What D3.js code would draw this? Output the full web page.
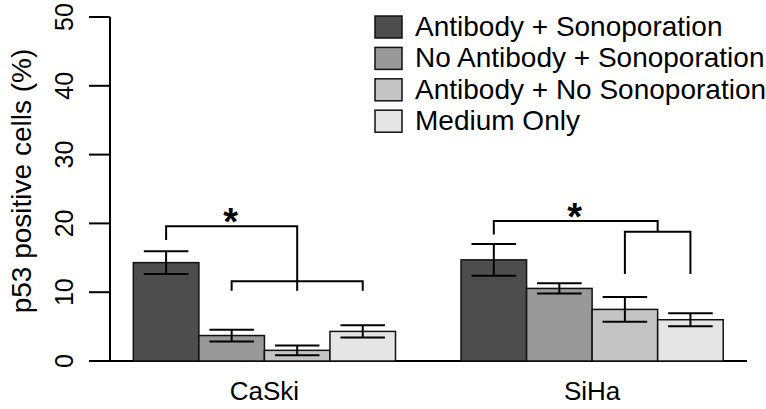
<!DOCTYPE html>
<html>
<head>
<meta charset="utf-8">
<script src="https://cdn.jsdelivr.net/npm/d3@7"></script>
<style>
  body { margin: 0; background: #fff; }
  text { font-family: "Liberation Sans", Arial, sans-serif; fill: #000; }
</style>
</head>
<body>
<script>
const groups = ['CaSki', 'SiHa'];
const series = ['Antibody + Sonoporation', 'No Antibody + Sonoporation', 'Antibody + No Sonoporation', 'Medium Only'];
const caskiMeans = [14.3, 3.7, 1.55, 4.3];
const caskiErrs = [1.65, 0.85, 0.7, 0.9];
const sihaMeans = [14.7, 10.55, 7.5, 6.0];
const sihaErrs = [2.3, 0.75, 1.8, 0.95];
const yTicks = [0, 10, 20, 30, 40, 50];
// significance brackets (bar index, value level)
const brackets = [
    { group: 0, from: 0, to: 2, level: 19.6, legFrom: 17.6, legTo: 10.2,
      sub: { from: 1, to: 3, level: 11.6, leg: 10.2 } },
    { group: 1, from: 0, to: 2.5, level: 20.35, legFrom: 18.4, legTo: 18.8,
      sub: { from: 2, to: 3, level: 18.8, leg: 12.65 } }
];

const colors = ['#4d4d4d', '#999999', '#c4c4c4', '#e5e5e5'];
const width = 766, height = 409;

const svg = d3.select('body').append('svg')
    .attr('width', width)
    .attr('height', height);

const y = d3.scaleLinear().domain([0, 50]).range([361, 17]);
// bar units: each group = 4 bars with 1 bar of space in front
const x = d3.scaleLinear().domain([0, 10]).range([67.8, 723.2]);
const unit = x(1) - x(0);

const bars = [];
groups.forEach((g, gi) => {
    const means = gi === 0 ? caskiMeans : sihaMeans;
    const errs = gi === 0 ? caskiErrs : sihaErrs;
    means.forEach((v, i) => bars.push({ group: gi, i: i, value: v, err: errs[i], pos: 1 + gi * 5 + i }));
});
const barCenter = (gi, i) => x(1 + gi * 5 + i + 0.5);

// baseline
svg.append('line')
    .attr('x1', 110).attr('x2', 747)
    .attr('y1', y(0)).attr('y2', y(0))
    .attr('stroke', '#000').attr('stroke-width', 2);

// bars
svg.selectAll('.bar').data(bars).enter().append('rect')
    .attr('class', 'bar')
    .attr('x', d => x(d.pos))
    .attr('y', d => y(d.value))
    .attr('width', unit)
    .attr('height', d => y(0) - y(d.value))
    .attr('fill', d => colors[d.i])
    .attr('stroke', '#111')
    .attr('stroke-width', 1.5);

// error bars
const capW = unit * 0.34;
const eb = svg.selectAll('.err').data(bars).enter().append('g')
    .attr('class', 'err')
    .attr('stroke', '#000').attr('stroke-width', 2);
eb.append('line')
    .attr('x1', d => x(d.pos + 0.5)).attr('x2', d => x(d.pos + 0.5))
    .attr('y1', d => y(d.value + d.err)).attr('y2', d => y(d.value - d.err));
eb.append('line')
    .attr('x1', d => x(d.pos + 0.5) - capW).attr('x2', d => x(d.pos + 0.5) + capW)
    .attr('y1', d => y(d.value + d.err)).attr('y2', d => y(d.value + d.err));
eb.append('line')
    .attr('x1', d => x(d.pos + 0.5) - capW).attr('x2', d => x(d.pos + 0.5) + capW)
    .attr('y1', d => y(d.value - d.err)).attr('y2', d => y(d.value - d.err));

// brackets
brackets.forEach(b => {
    const x1 = barCenter(b.group, b.from), x2 = barCenter(b.group, b.to);
    const s = b.sub;
    const sx1 = barCenter(b.group, s.from), sx2 = barCenter(b.group, s.to);
    const path = d3.path();
    path.moveTo(x1, y(b.legFrom)); path.lineTo(x1, y(b.level));
    path.lineTo(x2, y(b.level)); path.lineTo(x2, y(b.legTo));
    path.moveTo(sx1, y(s.leg)); path.lineTo(sx1, y(s.level));
    path.lineTo(sx2, y(s.level)); path.lineTo(sx2, y(s.leg));
    svg.append('path')
        .attr('d', path.toString())
        .attr('fill', 'none')
        .attr('stroke', '#000').attr('stroke-width', 2);
    svg.append('text')
        .attr('x', (x1 + x2) / 2 - 1)
        .attr('y', y(b.level) + 9)
        .attr('text-anchor', 'middle')
        .style('font-size', '38px')
        .style('font-weight', 'bold')
        .text('*');
});

// y axis
const yAxis = svg.append('g');
yAxis.append('line')
    .attr('x1', 110).attr('x2', 110)
    .attr('y1', y(0)).attr('y2', y(50))
    .attr('stroke', '#000').attr('stroke-width', 2);
yAxis.selectAll('.tick').data(yTicks).enter().append('line')
    .attr('x1', 89).attr('x2', 110)
    .attr('y1', d => y(d)).attr('y2', d => y(d))
    .attr('stroke', '#000').attr('stroke-width', 2);
yAxis.selectAll('.tlabel').data(yTicks).enter().append('text')
    .attr('transform', d => `translate(72.5, ${y(d)}) rotate(-90)`)
    .attr('text-anchor', 'middle')
    .style('font-size', '25px')
    .text(d => d);
svg.append('text')
    .attr('transform', `translate(31, 181) rotate(-90)`)
    .attr('text-anchor', 'middle')
    .style('font-size', '28px')
    .text('p53 positive cells (%)');

// group labels
svg.selectAll('.glabel').data(groups).enter().append('text')
    .attr('x', (d, gi) => x(3 + gi * 5))
    .attr('y', 400)
    .attr('text-anchor', 'middle')
    .style('font-size', '26px')
    .text(d => d);

// legend
const leg = svg.selectAll('.leg').data(series).enter().append('g')
    .attr('transform', (d, i) => `translate(375, ${16 + i * 31.4})`);
leg.append('rect')
    .attr('width', 27).attr('height', 22)
    .attr('fill', (d, i) => colors[i])
    .attr('stroke', '#111').attr('stroke-width', 1.5);
leg.append('text')
    .attr('x', 40).attr('y', 20)
    .style('font-size', '28px')
    .text(d => d);
</script>
</body>
</html>
